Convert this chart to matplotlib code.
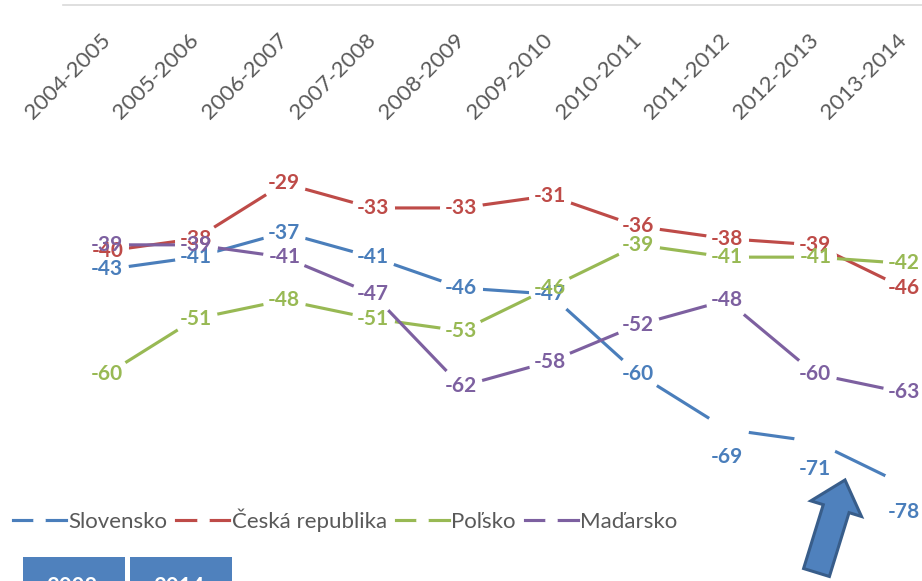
import numpy as np
import matplotlib.pyplot as plt
from matplotlib.lines import Line2D
from matplotlib.patches import FancyArrow, Rectangle

plt.rcParams['font.family'] = ['Lato', 'DejaVu Sans']

# data
seasons = ['2004-2005', '2005-2006', '2006-2007', '2007-2008', '2008-2009',
           '2009-2010', '2010-2011', '2011-2012', '2012-2013', '2013-2014']
slovensko = [-43, -41, -37, -41, -46, -47, -60, -69, -71, -78]
cesko = [-40, -38, -29, -33, -33, -31, -36, -38, -39, -46]
polsko = [-60, -51, -48, -51, -53, -46, -39, -41, -41, -42]
madarsko = [-39, -39, -41, -47, -62, -58, -52, -48, -60, -63]
names = ['Slovensko', 'Česká republika', 'Poľsko', 'Maďarsko']
colors = ['#4a7ebb', '#be4b48', '#98b954', '#7d60a0']
table_years = ['2008', '2014']

series = [slovensko, cesko, polsko, madarsko]
x = np.arange(len(seasons))

fig = plt.figure(figsize=(9.22, 5.81), dpi=100)
ax = fig.add_axes([63 / 922, 22.5 / 581, 885 / 922, 553.5 / 581])

# lines with big white markers (they leave the gaps around each point)
for vals, c in zip(series, colors):
    ax.plot(x, vals, color=c, lw=2.25, zorder=2, solid_capstyle='butt',
            marker='o', ms=31, mfc='white', mec='none')

# value labels on top of all lines
for k, (vals, c) in enumerate(zip(series, colors)):
    for i, v in enumerate(vals):
        dy = 0
        if k == 0 and i >= 7:
            dy = -20  # Slovensko end labels sit below the line
        ax.annotate(str(v), (i, v), xytext=(0, dy), textcoords='offset points',
                    ha='center', va='center', fontsize=15, fontweight='bold',
                    color=c, zorder=4)

ax.set_xlim(-0.5, len(seasons) - 0.5)
ax.set_ylim(-90, 0)
for s in ['left', 'right', 'bottom']:
    ax.spines[s].set_visible(False)
ax.spines['top'].set_color('#d9d9d9')
ax.spines['top'].set_linewidth(1.2)
ax.set_yticks([])
ax.set_xticks(x, seasons, rotation=45, ha='right', va='center',
              rotation_mode='anchor', fontsize=16, color='#595959')
ax.tick_params(axis='x', top=True, bottom=False, labeltop=True,
               labelbottom=False, length=0, pad=-23)

# legend
handles = [Line2D([], [], color=c, lw=2.25, marker='o', ms=9, mfc='white',
                  mec='none') for c in colors]
fig.legend(handles, names, loc='center left', bbox_to_anchor=(0.004, 0.105),
           ncol=4, frameon=False, fontsize=16, handlelength=2.4,
           handletextpad=0.1, columnspacing=0.4, borderaxespad=0,
           labelcolor='#595959')

# arrow pointing at the drop
arrow = FancyArrow(8.165, 0.085, 0.285, 0.925, width=0.27, head_width=0.53,
                   head_length=0.3, length_includes_head=True,
                   transform=fig.dpi_scale_trans, fc='#4f81bd', ec='#385d8a',
                   lw=2.2, zorder=5)
fig.add_artist(arrow)

# start of the table below the chart
for j, yr in enumerate(table_years):
    x0 = [0.23, 1.30][j]
    fig.add_artist(Rectangle((x0, -0.1), 1.02, 0.34, transform=fig.dpi_scale_trans,
                             fc='#4f81bd', ec='none'))
    fig.text(x0 + 0.49, -0.06, yr, transform=fig.dpi_scale_trans, ha='center',
             va='center', color='white', fontsize=16, fontweight='bold')

plt.savefig('out.png', dpi=100)
